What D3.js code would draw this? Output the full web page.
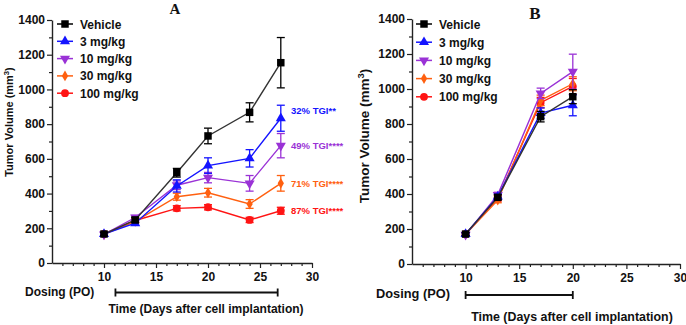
<!DOCTYPE html>
<html>
<head>
<meta charset="utf-8">
<script src="https://cdn.jsdelivr.net/npm/d3@7"></script>
<style>
  body { margin: 0; background: #fff; }
  svg { font-family: "Liberation Sans", Arial, sans-serif; font-weight: bold; }
</style>
</head>
<body>
<div id="chart"></div>
<script>
// ---- data ----
const groups = ["Vehicle", "3 mg/kg", "10 mg/kg", "30 mg/kg", "100 mg/kg"];
const yTicks = [0, 200, 400, 600, 800, 1000, 1200, 1400];
const xTicks = [10, 15, 20, 25, 30];

const daysA = [10, 13, 17, 20, 24, 27];
const vehicleA = [167, 248, 520, 732, 868, 1154];
const vehicleAErr = [10, 15, 25, 45, 55, 145];
const mg3A = [167, 229, 444, 561, 603, 834];
const mg3AErr = [8, 12, 35, 45, 50, 75];
const mg10A = [165, 262, 448, 492, 459, 676];
const mg10AErr = [8, 12, 25, 30, 45, 70];
const mg30A = [165, 240, 382, 405, 340, 459];
const mg30AErr = [8, 10, 20, 25, 25, 45];
const mg100A = [168, 245, 315, 321, 248, 301];
const mg100AErr = [8, 10, 15, 15, 15, 20];

const daysB = [10, 13, 17, 20];
const vehicleB = [171, 381, 842, 956];
const vehicleBErr = [8, 15, 30, 40];
const mg3B = [171, 385, 862, 907];
const mg3BErr = [8, 15, 30, 60];
const mg10B = [168, 395, 975, 1099];
const mg10BErr = [8, 15, 30, 100];
const mg30B = [170, 365, 935, 1030];
const mg30BErr = [8, 15, 30, 40];
const mg100B = [172, 375, 922, 1015];
const mg100BErr = [8, 15, 30, 45];

const tgiLabels = ["32% TGI**", "49%  TGI****", "71% TGI****", "87% TGI****"];
const tgiAnchor = [880, 676, 459, 301];   // value the label sits at
const dosingA = [11.1, 26.7];
const dosingB = [10, 20];

// ---- styling ----
const colors = ["#000000", "#1414ff", "#9a32d6", "#ff6010", "#ff1414"];
const symbols = [d3.symbolSquare, d3.symbolTriangle, d3.symbolTriangle, d3.symbolDiamond, d3.symbolCircle];
const symRot = [0, 0, 180, 0, 0];
const symSize = [56, 44, 44, 34, 48];

const svg = d3.select("#chart").append("svg")
  .attr("width", 686)
  .attr("height", 325);

function drawPanel(cfg) {
  const x = d3.scaleLinear().domain([5, 30]).range(cfg.xRange);
  const y = d3.scaleLinear().domain([0, 1400]).range(cfg.yRange);
  const g = svg.append("g");

  // minor ticks
  g.append("g")
    .attr("transform", "translate(" + cfg.xRange[0] + ",0)")
    .call(d3.axisLeft(y).tickValues(d3.range(100, 1400, 200)).tickSize(3).tickFormat(""))
    .call(a => a.select(".domain").remove());
  g.append("g")
    .attr("transform", "translate(0," + cfg.yRange[0] + ")")
    .call(d3.axisBottom(x).tickValues(d3.range(6, 30, 1).filter(d => d % 5)).tickSize(3).tickFormat(""))
    .call(a => a.select(".domain").remove());

  // y axis
  g.append("g")
    .attr("transform", "translate(" + cfg.xRange[0] + ",0)")
    .call(d3.axisLeft(y).tickValues(yTicks).tickFormat(d3.format("d")).tickSize(5).tickSizeOuter(0).tickPadding(2))
    .call(a => a.selectAll("text").attr("font-size", 12).attr("font-weight", "bold").attr("fill", "#111"));
  // x axis
  g.append("g")
    .attr("transform", "translate(0," + cfg.yRange[0] + ")")
    .call(d3.axisBottom(x).tickValues(xTicks).tickFormat(d3.format("d")).tickSize(5).tickSizeOuter(0).tickPadding(4))
    .call(a => a.selectAll("text").attr("font-size", 12).attr("font-weight", "bold").attr("fill", "#111"));

  g.selectAll(".domain").attr("stroke", "#222").attr("stroke-width", 1.4);
  g.selectAll(".tick line").attr("stroke", "#222").attr("stroke-width", 1.2);

  // series, vehicle drawn last (on top)
  const line = d3.line().x(d => x(d.day)).y(d => y(d.v));
  for (let i = cfg.series.length - 1; i >= 0; i--) {
    const s = cfg.series[i];
    const pts = cfg.days.map((day, j) => ({ day: day, v: s.values[j], e: s.err[j] }));
    const sg = g.append("g");
    sg.append("path").datum(pts)
      .attr("d", line)
      .attr("fill", "none")
      .attr("stroke", i === 0 ? "#333" : colors[i])
      .attr("stroke-width", 1.4);
    const eb = sg.selectAll(".eb").data(pts).enter().append("g")
      .attr("stroke", colors[i]).attr("stroke-width", 1.3);
    eb.append("line")
      .attr("x1", d => x(d.day)).attr("x2", d => x(d.day))
      .attr("y1", d => y(d.v - d.e)).attr("y2", d => y(d.v + d.e));
    eb.append("line")
      .attr("x1", d => x(d.day) - 4).attr("x2", d => x(d.day) + 4)
      .attr("y1", d => y(d.v + d.e)).attr("y2", d => y(d.v + d.e));
    eb.append("line")
      .attr("x1", d => x(d.day) - 4).attr("x2", d => x(d.day) + 4)
      .attr("y1", d => y(d.v - d.e)).attr("y2", d => y(d.v - d.e));
    sg.selectAll(".pt").data(pts).enter().append("path")
      .attr("d", d3.symbol().type(symbols[i]).size(symSize[i]))
      .attr("transform", d => "translate(" + x(d.day) + "," + y(d.v) + ") rotate(" + symRot[i] + ")")
      .attr("fill", colors[i]);
  }

  // legend
  groups.forEach((name, i) => {
    const ly = cfg.legY + i * cfg.legStep;
    const lg = g.append("g");
    lg.append("line")
      .attr("x1", cfg.legX).attr("x2", cfg.legX + 16)
      .attr("y1", ly).attr("y2", ly)
      .attr("stroke", colors[i]).attr("stroke-width", 1.5);
    lg.append("path")
      .attr("d", d3.symbol().type(symbols[i]).size(symSize[i]))
      .attr("transform", "translate(" + (cfg.legX + 8) + "," + ly + ") rotate(" + symRot[i] + ")")
      .attr("fill", colors[i]);
    lg.append("text")
      .attr("x", cfg.legX + 23).attr("y", ly + 4.5)
      .attr("font-size", 12).attr("fill", "#111")
      .text(name);
  });

  // y label
  const yl = g.append("text")
    .attr("transform", "translate(" + cfg.yLabX + "," + cfg.yLabY + ") rotate(-90)")
    .attr("text-anchor", "middle")
    .attr("font-size", cfg.yLabSize).attr("fill", "#111");
  yl.append("tspan").text("Tumor Volume (mm");
  yl.append("tspan").attr("font-size", cfg.yLabSize * 0.7).attr("dy", -cfg.yLabSize * 0.4).text("3");
  yl.append("tspan").attr("dy", cfg.yLabSize * 0.4).text(")");

  // dosing
  g.append("text").attr("x", cfg.doseLabX).attr("y", cfg.doseY + 3)
    .attr("font-size", cfg.doseSize).attr("fill", "#111").text("Dosing (PO)");
  const dg = g.append("g").attr("stroke", "#111").attr("stroke-width", 1.8);
  dg.append("line").attr("x1", x(cfg.dosing[0])).attr("x2", x(cfg.dosing[1]))
    .attr("y1", cfg.doseY).attr("y2", cfg.doseY);
  cfg.dosing.forEach(d => dg.append("line")
    .attr("x1", x(d)).attr("x2", x(d))
    .attr("y1", cfg.doseY - 4).attr("y2", cfg.doseY + 4));

  g.append("text")
    .attr("x", cfg.xLabX).attr("y", cfg.xLabY)
    .attr("text-anchor", "middle")
    .attr("font-size", cfg.xLabSize).attr("fill", "#111")
    .text("Time (Days after cell implantation)");

  g.append("text")
    .attr("x", cfg.titleX).attr("y", cfg.titleY)
    .attr("text-anchor", "middle")
    .attr("font-family", "'Liberation Serif', 'Times New Roman', serif")
    .attr("font-size", cfg.titleSize).attr("fill", "#111")
    .text(cfg.title);

  return { x: x, y: y, g: g };
}

const pA = drawPanel({
  title: "A", titleX: 175, titleY: 14, titleSize: 15,
  xRange: [52, 312], yRange: [263, 20],
  days: daysA,
  series: [
    { values: vehicleA, err: vehicleAErr },
    { values: mg3A, err: mg3AErr },
    { values: mg10A, err: mg10AErr },
    { values: mg30A, err: mg30AErr },
    { values: mg100A, err: mg100AErr }
  ],
  legX: 57, legY: 24, legStep: 17.3,
  yLabX: 13, yLabY: 122, yLabSize: 11,
  doseLabX: 25, doseY: 292.5, doseSize: 12, dosing: dosingA,
  xLabX: 206, xLabY: 313, xLabSize: 12
});

tgiLabels.forEach((t, i) => {
  pA.g.append("text")
    .attr("x", 291).attr("y", pA.y(tgiAnchor[i]) + 3.5)
    .attr("font-size", 9.5).attr("fill", colors[i + 1])
    .text(t);
});

drawPanel({
  title: "B", titleX: 535, titleY: 19, titleSize: 17,
  xRange: [412, 680], yRange: [264, 19],
  days: daysB,
  series: [
    { values: vehicleB, err: vehicleBErr },
    { values: mg3B, err: mg3BErr },
    { values: mg10B, err: mg10BErr },
    { values: mg30B, err: mg30BErr },
    { values: mg100B, err: mg100BErr }
  ],
  legX: 416, legY: 24, legStep: 18.2,
  yLabX: 369, yLabY: 136, yLabSize: 13.5,
  doseLabX: 376, doseY: 295, doseSize: 12.8, dosing: dosingB,
  xLabX: 572, xLabY: 321, xLabSize: 12.4
});
</script>
</body>
</html>
